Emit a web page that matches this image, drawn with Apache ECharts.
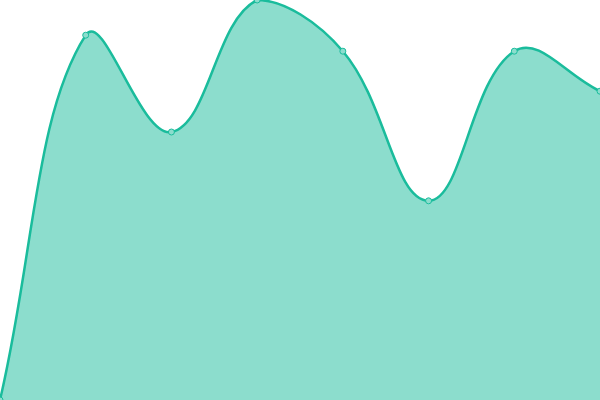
<!DOCTYPE html>
<html><head><meta charset="utf-8">
<script src="https://cdn.jsdelivr.net/npm/echarts@6/dist/echarts.min.js"></script>
<style>html,body{margin:0;padding:0;background:#fff}#c{width:600px;height:400px}</style>
</head><body><div id="c"></div>
<script>
const categories = ['A','B','C','D','E','F','G','H'];
const values = [0, 91.2, 67, 100, 87.2, 49.8, 87.2, 77.2];
const lineColor = '#1abc9c';
const chart = echarts.init(document.getElementById('c'));

function buildPaths(pts, area, baseY) {
  const t = 0.4;
  const cps = pts.map((cur, i) => {
    const prev = pts[i - 1] || cur, next = pts[i + 1] || cur;
    const d01 = Math.hypot(cur[0] - prev[0], cur[1] - prev[1]);
    const d12 = Math.hypot(next[0] - cur[0], next[1] - cur[1]);
    const sum = d01 + d12 || 1;
    const fa = t * d01 / sum, fb = t * d12 / sum;
    const clampX = x => Math.min(Math.max(x, area.x), area.x + area.width);
    const clampY = y => Math.min(Math.max(y, area.y), area.y + area.height);
    return {
      p: [clampX(cur[0] - fa * (next[0] - prev[0])), clampY(cur[1] - fa * (next[1] - prev[1]))],
      n: [clampX(cur[0] + fb * (next[0] - prev[0])), clampY(cur[1] + fb * (next[1] - prev[1]))]
    };
  });
  let d = 'M' + pts[0][0] + ' ' + pts[0][1];
  for (let i = 1; i < pts.length; i++) {
    d += ' C' + cps[i - 1].n[0] + ' ' + cps[i - 1].n[1] + ' ' + cps[i].p[0] + ' ' + cps[i].p[1] + ' ' + pts[i][0] + ' ' + pts[i][1];
  }
  const last = pts[pts.length - 1];
  const areaD = d + ' L' + last[0] + ' ' + baseY + ' L' + pts[0][0] + ' ' + baseY + ' Z';
  return {line: d, area: areaD};
}

chart.setOption({
  animation: false,
  grid: {left: 0, right: 0, top: 0, bottom: 0},
  xAxis: {type: 'category', data: categories, boundaryGap: false, show: false},
  yAxis: {type: 'value', min: 0, max: 100, show: false},
  series: [{
    type: 'custom',
    data: [0],
    renderItem: function (params, api) {
      if (params.dataIndex !== 0) return;
      const pts = values.map((v, i) => api.coord([i, v]));
      const baseY = api.coord([0, 0])[1];
      const paths = buildPaths(pts, params.coordSys, baseY);
      return {
        type: 'group',
        children: [
          {type: 'path', shape: {pathData: paths.area}, style: {fill: 'rgba(26,188,156,0.5)', stroke: null}},
          {type: 'path', shape: {pathData: paths.line}, style: {fill: null, stroke: lineColor, lineWidth: 2.5}}
        ]
      };
    }
  }, {
    type: 'scatter',
    data: values,
    symbol: 'circle',
    symbolSize: 6,
    itemStyle: {color: '#8cddcd', borderColor: lineColor, borderWidth: 1, opacity: 1}
  }]
});
</script></body></html>
